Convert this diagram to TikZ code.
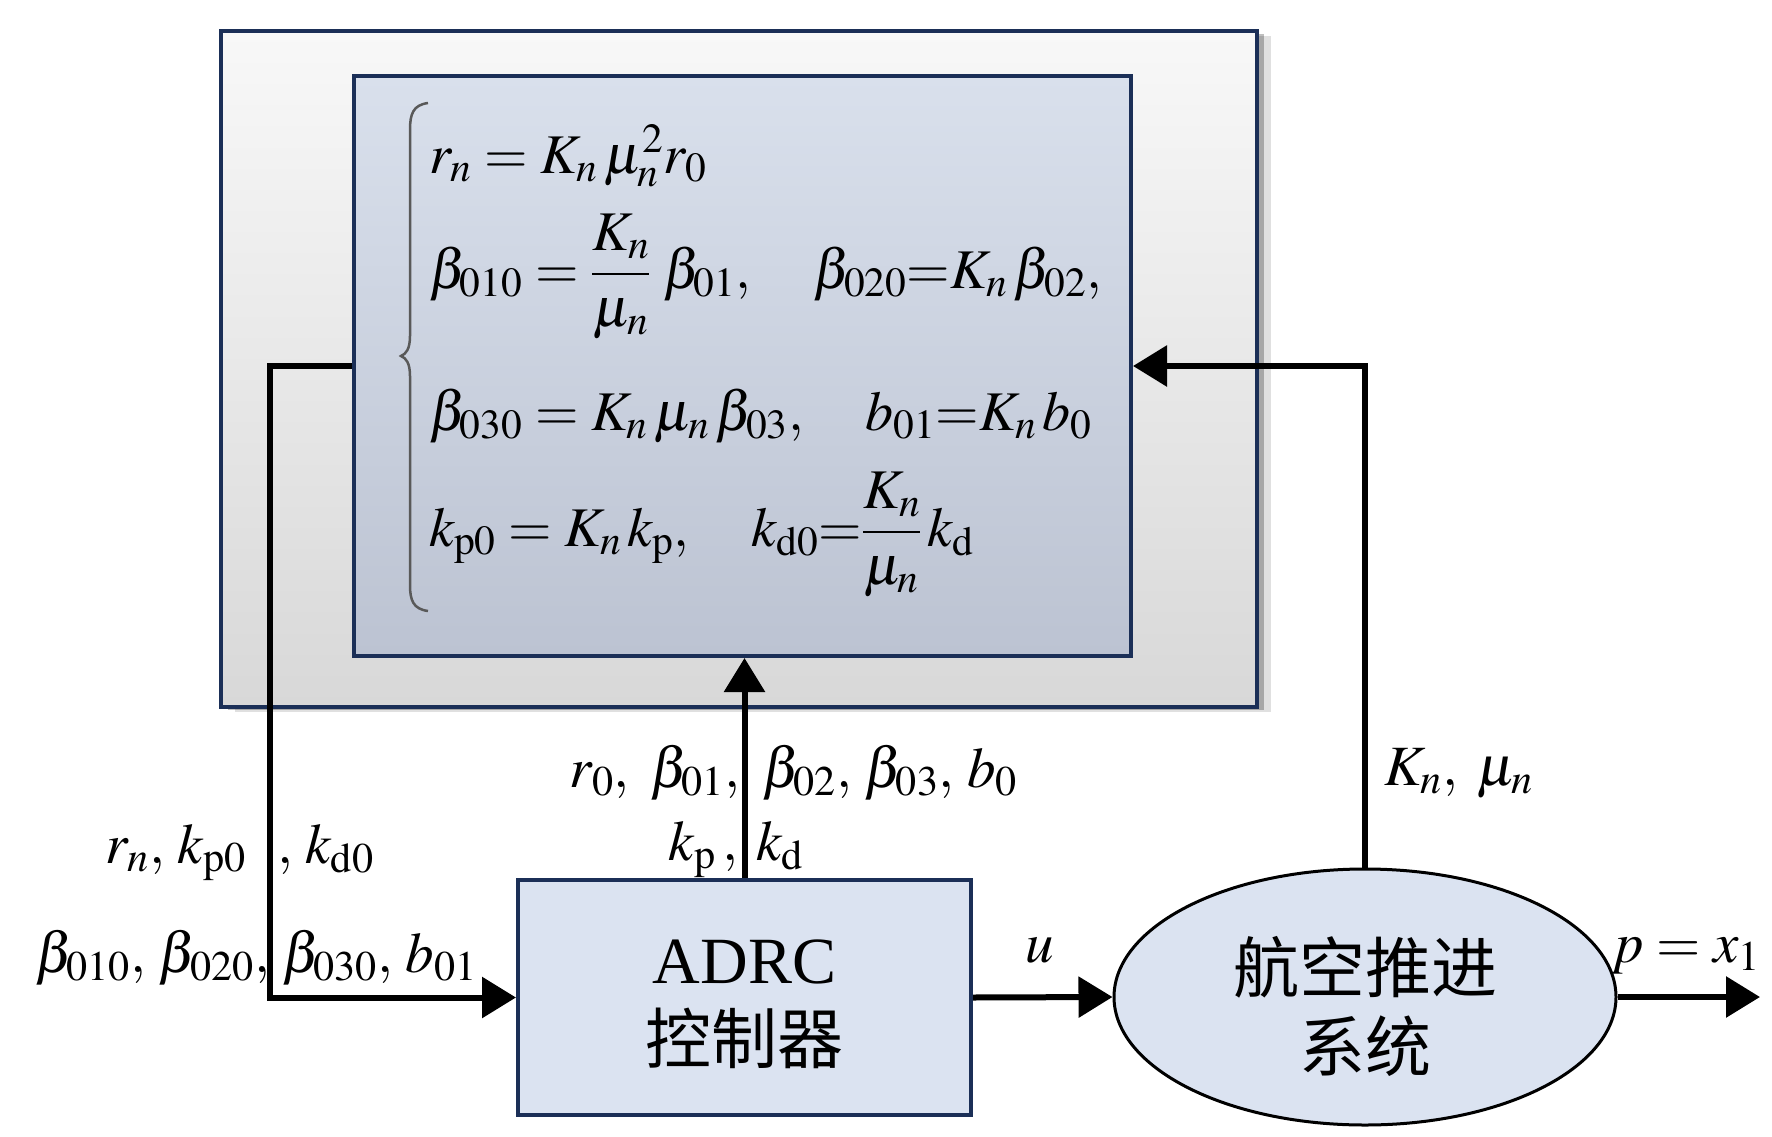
\documentclass[tikz,border=0pt]{standalone}
\usepackage{mathptmx}
\usepackage{fontspec}
\setmainfont{Liberation Serif}
\newfontfamily\cjk{Noto Sans CJK SC}
\usetikzlibrary{arrows.meta,shapes.geometric,shadows}
\definecolor{navy}{HTML}{1B2F57}
\definecolor{outtop}{HTML}{F8F8F8}
\definecolor{outbot}{HTML}{D8D8D8}
\definecolor{intop}{HTML}{D9E0EC}
\definecolor{inbot}{HTML}{BCC3D2}
\definecolor{boxfill}{HTML}{DBE3F1}
\begin{document}
\begin{tikzpicture}[x=1pt,y=-1pt,
  conn/.style={line width=6pt,-{Triangle[length=34pt,width=40pt]}},
  eq/.style={inner sep=0pt,anchor=base west,font=\fontsize{56}{62}\selectfont},
  lab/.style={inner sep=0pt,font=\fontsize{57}{62}\selectfont},
  navybox/.style={draw=navy,line width=4pt,inner sep=0pt}
]
\useasboundingbox (0,0) rectangle (1772,1137);
\fill[white] (0,0) rectangle (1772,1137);

% outer and inner boxes
\node[navybox,top color=outtop,bottom color=outbot,minimum width=1036pt,minimum height=676pt,
  drop shadow={shadow xshift=7pt,shadow yshift=-3pt,opacity=.25,fill=black},
  drop shadow={shadow xshift=14pt,shadow yshift=-5pt,opacity=.12,fill=black}] (outer) at (739,369) {};
\node[navybox,top color=intop,bottom color=inbot,minimum width=777pt,minimum height=580pt] (inner) at (742.5,366) {};

% brace
\draw[line width=2.5pt,black!65] (428,103) .. controls (413,105) and (410,114) .. (410,130) -- (410,336)
  .. controls (410,349) and (406,354) .. (401,356) .. controls (406,358) and (410,363) .. (410,376)
  -- (410,585) .. controls (410,600) and (413,609) .. (428,611);

% equations
\node[eq] (e1) at (429,173) {$r_n = K_n\,\mu_n^2 r_0$};
\node[eq] (e2) at (429,288) {$\beta_{010} = \displaystyle\frac{K_n}{\mu_n}\;\beta_{01},\quad \beta_{020}{=}K_n\,\beta_{02},$};
\node[eq] (e3) at (429,430) {$\beta_{030} = K_n\,\mu_n\,\beta_{03},\quad b_{01}{=}K_n\,b_0$};
\node[eq] (e4) at (429,546) {$k_{\mathrm{p}0} = K_n\,k_{\mathrm{p}},\quad k_{\mathrm{d}0}{=}\displaystyle\frac{K_n}{\mu_n}\,k_{\mathrm{d}}$};

% blocks
\node[navybox,fill=boxfill,minimum width=453pt,minimum height=235pt,align=center,
  text height=131pt,text depth=0pt,
  font=\fontsize{66}{80}\selectfont] (adrc) at (744.5,997.5) {ADRC\\{\cjk 控制器}};
\node[ellipse,draw=black,line width=3pt,fill=boxfill,minimum width=502pt,minimum height=256pt,
  inner sep=0pt,align=center,text height=148pt,text depth=0pt,
  font=\cjk\fontsize{66}{79}\selectfont] (plant) at (1365,997) {航空推进\\系统};
\coordinate (out) at (1760,997);

% connectors
\draw[conn] (inner.west) -- ++(-82,0) |- (adrc.west);
\draw[conn] (adrc.north) -- (adrc.north |- inner.south);
\draw[conn] (plant.north) |- (inner.east);
\draw[conn] (adrc.east) -- (plant.west);
\draw[conn] (plant.east) -- (out);

% labels
\node[lab,anchor=base east] (l1a) at (740,787) {$r_0,\ \beta_{01},$};
\node[lab,anchor=base west] (l1b) at (762,787) {$\beta_{02},\,\beta_{03},\,b_0$};
\node[lab,anchor=base east] (l2a) at (738,860) {$k_{\mathrm{p}}\,,$};
\node[lab,anchor=base west] (l2b) at (756,860) {$k_{\mathrm{d}}$};
\node[lab,anchor=base east] (l3a) at (246,863) {$r_n,\,k_{\mathrm{p}0}$};
\node[lab,anchor=base west] (l3b) at (277,863) {$,\,k_{\mathrm{d}0}$};
\node[lab,anchor=base east] (l4a) at (270,972) {$\beta_{010},\,\beta_{020},$};
\node[lab,anchor=base west] (l4b) at (282,972) {$\beta_{030},\,b_{01}$};
\node[lab,anchor=base west] (kmu) at (1384,785) {$K_n,\;\mu_n$};
\node[lab,anchor=base] (ulab) at (1040,962) {$u$};
\node[lab,anchor=base west] (plab) at (1611,962) {$p = x_1$};
\end{tikzpicture}
\end{document}
